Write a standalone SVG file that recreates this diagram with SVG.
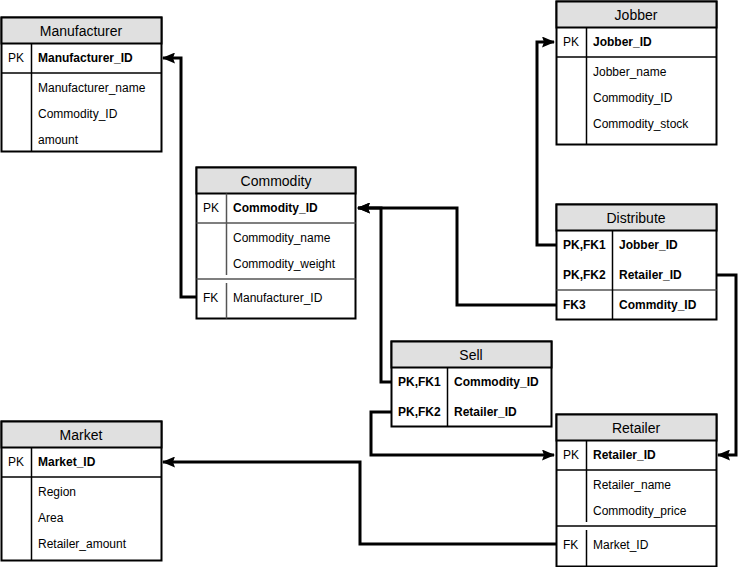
<svg xmlns="http://www.w3.org/2000/svg" width="746" height="567" viewBox="0 0 746 567">
<defs>
<style>
.box{fill:#ffffff;stroke:#000;stroke-width:2}
.hdr{fill:#e0e0e0;stroke:#000;stroke-width:2}
.ln{stroke:#000;stroke-width:1.5;fill:none}
.gl{stroke:#555;stroke-width:1.5;fill:none}
.t{font-family:"Liberation Sans",Arial,sans-serif;font-size:12px;fill:#000;dominant-baseline:central}
.b{font-weight:bold}
.h{font-family:"Liberation Sans",Arial,sans-serif;font-size:14px;fill:#000;text-anchor:middle;dominant-baseline:central}
.c{stroke:#000;stroke-width:3;fill:none;marker-end:url(#arr)}
</style>
<marker id="arr" viewBox="0 0 13 11" refX="12" refY="5.5" markerWidth="13" markerHeight="11" orient="auto" markerUnits="userSpaceOnUse">
<path d="M0,0 L13,5.5 L0,11 L2,5.5 z" fill="#000"/>
</marker>
</defs>

<g id="connectors">
<path class="c" d="M196,297 H181 V58 H163"/>
<path class="c" d="M556,305 H457 V208 H358"/>
<path class="c" d="M391,382 H381 V208 H358"/>
<path class="c" d="M556,245 H537 V42 H554"/>
<path class="c" d="M716,275 H736 V455 H718"/>
<path class="c" d="M391,412 H371 V455 H554"/>
<path class="c" d="M556,544 H360 V462 H163"/>
</g>

<g id="manufacturer">
<rect class="box" x="1.5" y="17.5" width="160" height="134"/>
<rect class="hdr" x="1.5" y="17.5" width="160" height="26"/>
<line class="ln" x1="1.5" y1="73" x2="161.5" y2="73"/>
<line class="ln" x1="31.5" y1="43.5" x2="31.5" y2="151.5"/>
<text class="h" x="81" y="31">Manufacturer</text>
<text class="t" x="8" y="58">PK</text>
<text class="t b" x="38" y="58">Manufacturer_ID</text>
<text class="t" x="38" y="88">Manufacturer_name</text>
<text class="t" x="38" y="114">Commodity_ID</text>
<text class="t" x="38" y="140">amount</text>
</g>

<g id="commodity">
<rect class="box" x="196.5" y="167.5" width="159" height="151"/>
<rect class="hdr" x="196.5" y="167.5" width="159" height="26"/>
<line class="gl" x1="196.5" y1="223" x2="355.5" y2="223"/>
<line class="gl" x1="196.5" y1="279" x2="355.5" y2="279"/>
<line class="gl" x1="226.5" y1="193.5" x2="226.5" y2="275"/>
<line class="gl" x1="226.5" y1="283" x2="226.5" y2="318.5"/>
<text class="h" x="276" y="181">Commodity</text>
<text class="t" x="203" y="208">PK</text>
<text class="t b" x="233" y="208">Commodity_ID</text>
<text class="t" x="233" y="238">Commodity_name</text>
<text class="t" x="233" y="264">Commodity_weight</text>
<text class="t" x="203" y="298">FK</text>
<text class="t" x="233" y="298">Manufacturer_ID</text>
</g>

<g id="jobber">
<rect class="box" x="556.5" y="1.5" width="160" height="143"/>
<rect class="hdr" x="556.5" y="1.5" width="160" height="26"/>
<line class="ln" x1="556.5" y1="57" x2="716.5" y2="57"/>
<line class="ln" x1="586.5" y1="27.5" x2="586.5" y2="144.5"/>
<text class="h" x="636" y="15">Jobber</text>
<text class="t" x="563" y="42">PK</text>
<text class="t b" x="593" y="42">Jobber_ID</text>
<text class="t" x="593" y="72">Jobber_name</text>
<text class="t" x="593" y="98">Commodity_ID</text>
<text class="t" x="593" y="124">Commodity_stock</text>
</g>

<g id="distribute">
<rect class="box" x="556.5" y="204.5" width="160" height="115"/>
<rect class="hdr" x="556.5" y="204.5" width="160" height="26"/>
<line class="gl" x1="556.5" y1="290" x2="716.5" y2="290"/>
<line class="ln" x1="612.5" y1="230.5" x2="612.5" y2="319.5"/>
<text class="h" x="636" y="218">Distribute</text>
<text class="t b" x="563" y="245">PK,FK1</text>
<text class="t b" x="619" y="245">Jobber_ID</text>
<text class="t b" x="563" y="275">PK,FK2</text>
<text class="t b" x="619" y="275">Retailer_ID</text>
<text class="t b" x="563" y="305">FK3</text>
<text class="t b" x="619" y="305">Commdity_ID</text>
</g>

<g id="sell">
<rect class="box" x="391.5" y="341.5" width="160" height="85"/>
<rect class="hdr" x="391.5" y="341.5" width="160" height="26"/>
<line class="ln" x1="447.5" y1="367.5" x2="447.5" y2="426.5"/>
<text class="h" x="471" y="355">Sell</text>
<text class="t b" x="398" y="382">PK,FK1</text>
<text class="t b" x="454" y="382">Commodity_ID</text>
<text class="t b" x="398" y="412">PK,FK2</text>
<text class="t b" x="454" y="412">Retailer_ID</text>
</g>

<g id="retailer">
<rect class="box" x="556.5" y="414.5" width="160" height="152"/>
<rect class="hdr" x="556.5" y="414.5" width="160" height="26"/>
<line class="ln" x1="556.5" y1="470" x2="716.5" y2="470"/>
<line class="ln" x1="556.5" y1="526" x2="716.5" y2="526"/>
<line class="ln" x1="586.5" y1="440.5" x2="586.5" y2="522"/>
<line class="ln" x1="586.5" y1="530" x2="586.5" y2="566.5"/>
<text class="h" x="636" y="428">Retailer</text>
<text class="t" x="563" y="455">PK</text>
<text class="t b" x="593" y="455">Retailer_ID</text>
<text class="t" x="593" y="485">Retailer_name</text>
<text class="t" x="593" y="511">Commodity_price</text>
<text class="t" x="563" y="545">FK</text>
<text class="t" x="593" y="545">Market_ID</text>
</g>

<g id="market">
<rect class="box" x="1.5" y="421.5" width="160" height="139"/>
<rect class="hdr" x="1.5" y="421.5" width="160" height="26"/>
<line class="ln" x1="1.5" y1="477" x2="161.5" y2="477"/>
<line class="ln" x1="31.5" y1="447.5" x2="31.5" y2="560.5"/>
<text class="h" x="81" y="435">Market</text>
<text class="t" x="8" y="462">PK</text>
<text class="t b" x="38" y="462">Market_ID</text>
<text class="t" x="38" y="492">Region</text>
<text class="t" x="38" y="518">Area</text>
<text class="t" x="38" y="544">Retailer_amount</text>
</g>
</svg>
